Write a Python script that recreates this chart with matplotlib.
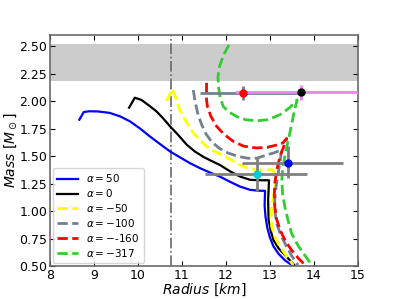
import numpy as np
import matplotlib
matplotlib.use("Agg")
import matplotlib.pyplot as plt

# mass-radius curves (radius km, mass Msun)
r_a50 = [8.67, 8.77, 8.90, 9.10, 9.36, 9.60, 9.82, 10.05, 10.27, 10.50, 10.73,
         10.95, 11.18, 11.41, 11.64, 11.86, 12.10, 12.32, 12.55, 12.75, 12.89,
         12.88, 12.90, 12.94, 13.00, 13.08, 13.20, 13.35, 13.57]
m_a50 = [1.83, 1.90, 1.907, 1.905, 1.892, 1.86, 1.815, 1.75, 1.679, 1.61, 1.542,
         1.49, 1.436, 1.39, 1.35, 1.314, 1.265, 1.223, 1.193, 1.185, 1.184,
         1.05, 0.95, 0.85, 0.76, 0.68, 0.61, 0.55, 0.49]

r_a0 = [9.80, 9.93, 10.08, 10.25, 10.42, 10.58, 10.73, 10.92, 11.11, 11.30,
        11.50, 11.70, 11.86, 12.10, 12.32, 12.55, 12.80, 12.98, 12.96, 12.97,
        13.02, 13.08, 13.20, 13.38, 13.60]
m_a0 = [1.94, 2.03, 2.01, 1.96, 1.907, 1.84, 1.77, 1.69, 1.603, 1.54,
        1.49, 1.45, 1.42, 1.36, 1.314, 1.284, 1.28, 1.28, 1.10, 0.92,
        0.82, 0.737, 0.66, 0.585, 0.49]

r_am50 = [10.65, 10.78, 10.87, 10.95, 11.10, 11.26, 11.40, 11.55, 11.70, 11.86,
          12.10, 12.32, 12.50, 12.70, 12.90, 13.07, 13.12, 13.13, 13.08, 13.04,
          13.03, 13.04, 13.12, 13.23, 13.38, 13.53]
m_am50 = [2.00, 2.11, 2.02, 1.92, 1.81, 1.71, 1.65, 1.59, 1.55, 1.52,
          1.47, 1.42, 1.39, 1.375, 1.375, 1.375, 1.32, 1.25, 1.14, 1.04,
          0.95, 0.858, 0.76, 0.676, 0.59, 0.51]

r_am100 = [11.26, 11.29, 11.33, 11.38, 11.45, 11.55, 11.67, 11.85, 12.05, 12.30,
           12.50, 12.70, 12.93, 13.10, 13.27, 13.23, 13.19, 13.14, 13.11, 13.12,
           13.15, 13.25, 13.38, 13.50, 13.64]
m_am100 = [2.10, 2.02, 1.94, 1.86, 1.785, 1.70, 1.633, 1.57, 1.527, 1.495,
           1.48, 1.48, 1.51, 1.53, 1.557, 1.45, 1.345, 1.22, 1.10, 0.99,
           0.89, 0.78, 0.676, 0.59, 0.51]

r_am160 = [11.56, 11.56, 11.56, 11.58, 11.66, 11.79, 11.95, 12.17, 12.40, 12.70,
           12.95, 13.15, 13.30, 13.38, 13.30, 13.23, 13.16, 13.11, 13.10, 13.11,
           13.15, 13.23, 13.35, 13.49, 13.65, 13.80]
m_am160 = [2.165, 2.08, 2.01, 1.95, 1.86, 1.77, 1.70, 1.633, 1.59, 1.573,
           1.58, 1.60, 1.62, 1.66, 1.57, 1.50, 1.38, 1.25, 1.14, 1.04,
           0.93, 0.83, 0.73, 0.646, 0.57, 0.51]

r_am317 = [12.07, 11.95, 11.86, 11.82, 11.83, 11.87, 11.94, 12.07, 12.24, 12.45,
           12.70, 12.95, 13.23, 13.45, 13.62, 13.55, 13.48, 13.42, 13.34, 13.29,
           13.27, 13.29, 13.34, 13.41, 13.49, 13.62, 13.76, 13.88, 13.98]
m_am317 = [2.51, 2.42, 2.32, 2.22, 2.13, 2.03, 1.95, 1.90, 1.86, 1.83,
           1.82, 1.83, 1.876, 1.94, 2.01, 1.90, 1.76, 1.65, 1.50, 1.38,
           1.28, 1.15, 1.04, 0.92, 0.80, 0.70, 0.616, 0.55, 0.49]

# NICER points: R, -dR, +dR, M, -dM, +dM
obs_r = [12.39, 13.70, 12.71, 13.42]
obs_rlo = [0.98, 1.50, 1.19, 1.06]
obs_rhi = [1.30, 2.60, 1.14, 1.24]
obs_m = [2.072, 2.08, 1.34, 1.44]
obs_mlo = [0.066, 0.07, 0.16, 0.14]
obs_mhi = [0.067, 0.07, 0.15, 0.15]
obs_col = ['red', 'black', 'darkturquoise', 'blue']
obs_ecol = ['slategray', 'violet', 'gray', 'gray']

band = (2.18, 2.52)
r_limit = 10.75

fig = plt.figure(figsize=(3.99, 2.99), dpi=100)
ax = fig.add_axes([0.125, 0.11, 0.772, 0.773])

ax.axhspan(band[0], band[1], color='gray', alpha=0.4, lw=0)
ax.axvline(r_limit, color='dimgray', ls='-.', lw=1.2)

ax.plot(r_a50, m_a50, color='blue', lw=1.6, label=r'$\alpha=50$')
ax.plot(r_a0, m_a0, color='black', lw=1.6, label=r'$\alpha=0$')
ax.plot(r_am50, m_am50, color='yellow', lw=2, ls='--', label=r'$\alpha=-50$')
ax.plot(r_am100, m_am100, color='slategray', lw=2, ls='--', label=r'$\alpha=-100$')
ax.plot(r_am160, m_am160, color='red', lw=2, ls='--', label=r'$\alpha=-$-160')
ax.plot(r_am317, m_am317, color='limegreen', lw=2, ls='--', label=r'$\alpha=-317$')

for i in range(len(obs_r)):
    ax.errorbar(obs_r[i], obs_m[i],
                xerr=[[obs_rlo[i]], [obs_rhi[i]]],
                yerr=[[obs_mlo[i]], [obs_mhi[i]]],
                fmt='o', color=obs_col[i], ms=5, ecolor=obs_ecol[i],
                elinewidth=2, capsize=0, zorder=5)

ax.set_xlim(8, 15)
ax.set_ylim(0.5, 2.6)
ax.set_yticks([0.5, 0.75, 1.0, 1.25, 1.5, 1.75, 2.0, 2.25, 2.5])
ax.yaxis.set_major_formatter(matplotlib.ticker.FormatStrFormatter('%.2f'))
ax.tick_params(direction='in', top=True, right=True, labelsize=9, pad=2,
               colors='black')
for s in ax.spines.values():
    s.set_color('dimgray')
    s.set_linewidth(1.2)
ax.set_xlabel(r'$Radius\ [km]$', fontsize=10, labelpad=0)
ax.set_ylabel(r'$Mass\ [M_\odot]$', fontsize=10, labelpad=0)
ax.legend(loc='lower left', fontsize=7.5, handlelength=2.0, labelspacing=0.28,
          borderaxespad=0.3)

fig.savefig('out.png', dpi=100)
